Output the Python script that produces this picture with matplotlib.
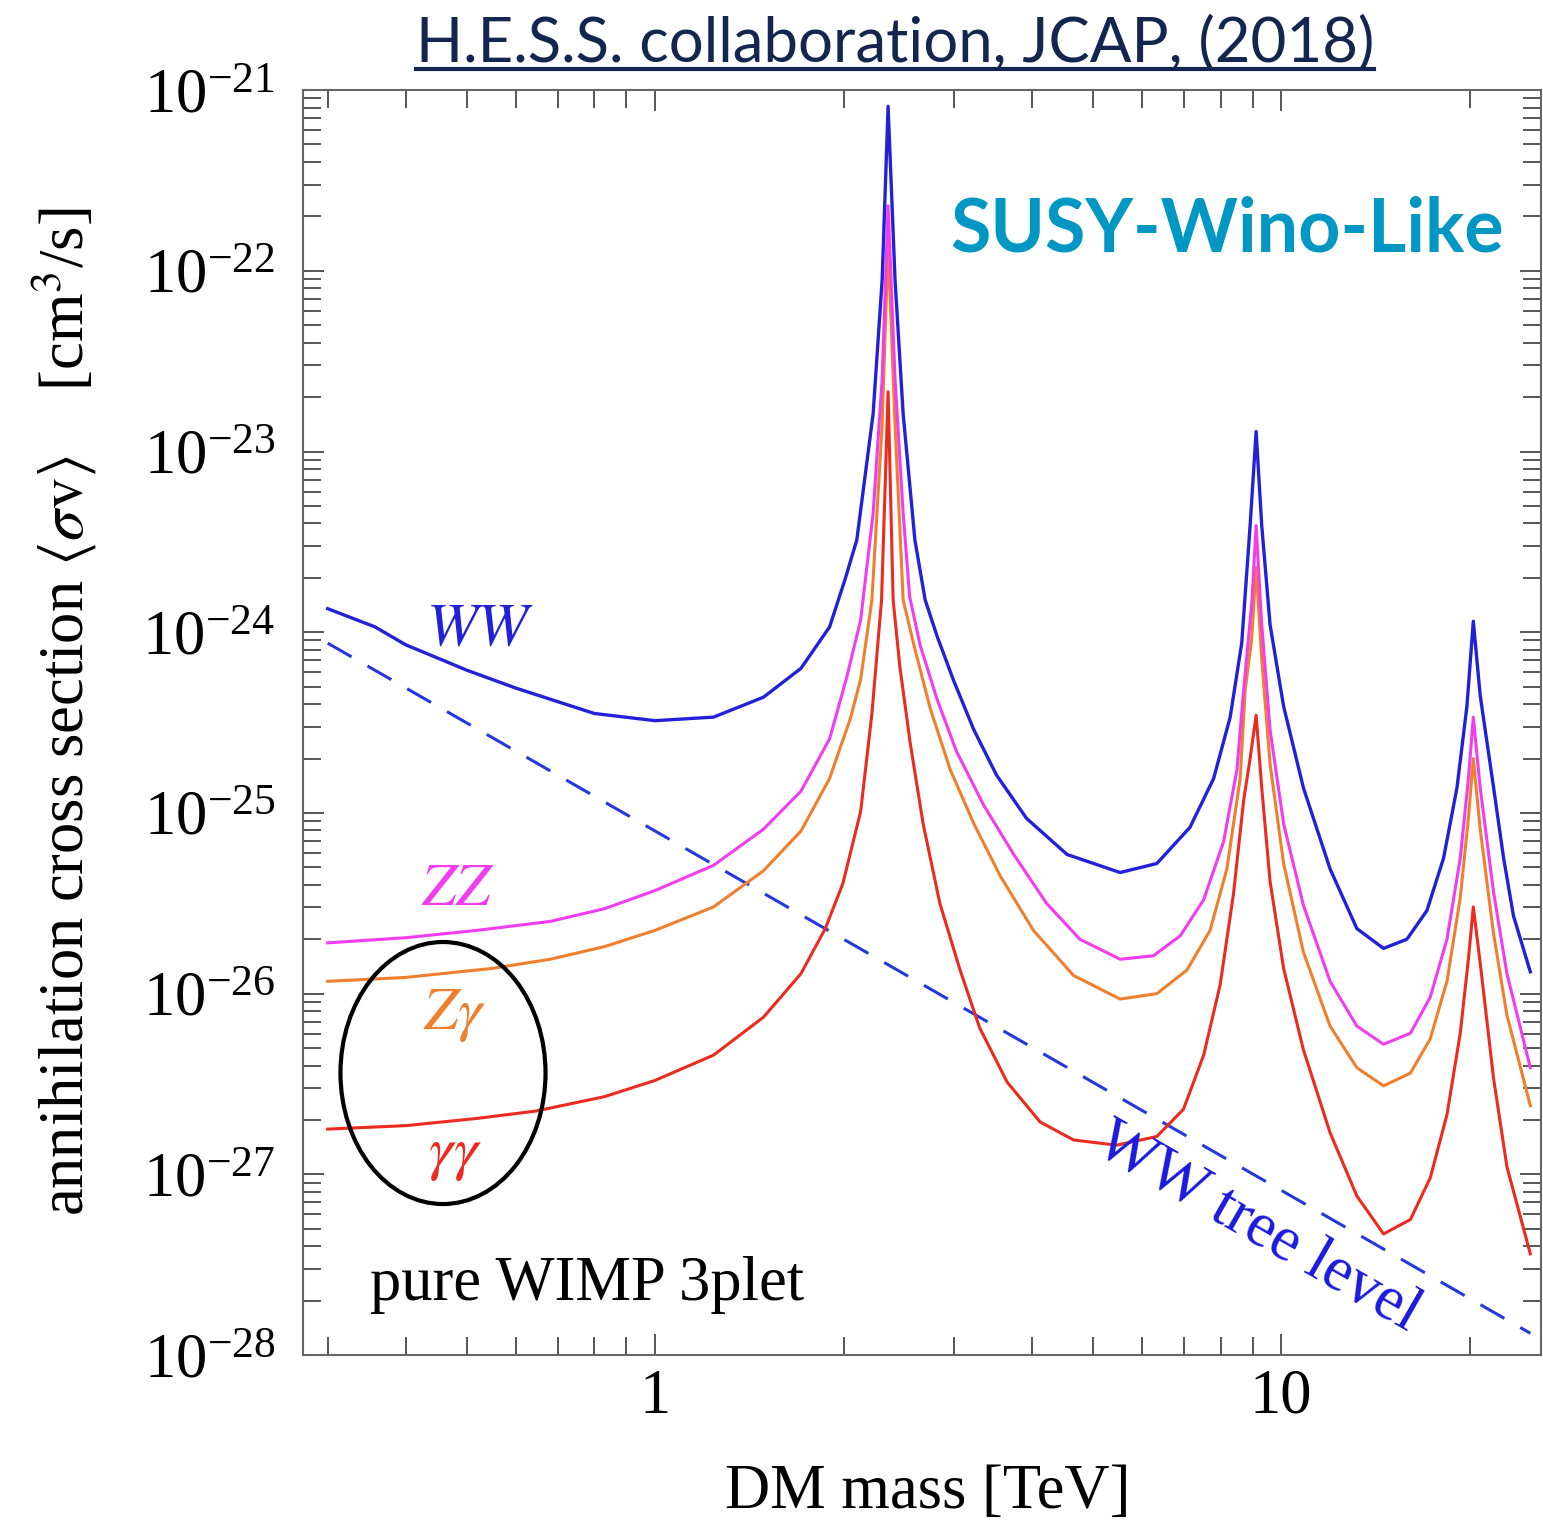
import numpy as np
import matplotlib
matplotlib.use('Agg')
import matplotlib.pyplot as plt
from matplotlib.ticker import LogLocator, FixedLocator, NullFormatter, FuncFormatter
from matplotlib.patches import Ellipse
from matplotlib.lines import Line2D

plt.rcParams['font.family'] = 'Liberation Serif'
plt.rcParams['mathtext.fontset'] = 'stix'

# DM mass [TeV] and <sigma v> [cm^3/s] for each annihilation channel
mass_ww = [0.30, 0.357, 0.40, 0.50, 0.60, 0.80, 1.00, 1.24, 1.49, 1.71, 1.90, 2.01, 2.10, 2.23,
           2.305, 2.356, 2.417, 2.49, 2.60, 2.70, 2.82, 3.00, 3.23, 3.51, 3.92, 4.55, 5.53, 6.33,
           7.15, 7.80, 8.29, 8.65, 8.92, 9.12, 9.31, 9.60, 10.09, 10.85, 11.97, 13.21, 14.57,
           15.88, 17.09, 18.17, 19.09, 19.80, 20.27, 20.79, 21.84, 22.66, 23.50, 25.00]
sv_ww = [1.35e-24, 1.07e-24, 8.51e-25, 6.17e-25, 4.90e-25, 3.55e-25, 3.24e-25, 3.39e-25, 4.37e-25,
         6.31e-25, 1.07e-24, 1.95e-24, 3.24e-24, 1.62e-23, 8.91e-23, 8.13e-22, 8.91e-23, 1.62e-23,
         3.24e-24, 1.51e-24, 9.55e-25, 5.37e-25, 2.88e-25, 1.62e-25, 9.33e-26, 5.89e-26, 4.68e-26,
         5.25e-26, 8.32e-26, 1.55e-25, 3.39e-25, 8.71e-25, 3.89e-24, 1.29e-23, 3.89e-24, 1.10e-24,
         3.89e-25, 1.38e-25, 4.90e-26, 2.29e-26, 1.78e-26, 2.00e-26, 2.88e-26, 5.62e-26, 1.38e-25,
         3.89e-25, 1.15e-24, 4.47e-25, 1.38e-25, 5.62e-26, 2.69e-26, 1.32e-26]

mass_zz = [0.30, 0.40, 0.52, 0.68, 0.83, 1.00, 1.24, 1.49, 1.71, 1.90, 2.02, 2.13, 2.23, 2.305,
           2.356, 2.417, 2.49, 2.55, 2.65, 2.82, 3.03, 3.35, 3.74, 4.22, 4.77, 5.53, 6.25, 6.90,
           7.52, 8.09, 8.50, 8.71, 8.98, 9.12, 9.31, 9.60, 10.09, 10.85, 11.97, 13.21, 14.57,
           16.08, 17.30, 18.40, 19.32, 19.92, 20.27, 20.79, 21.84, 22.94, 25.00]
sv_zz = [1.91e-26, 2.04e-26, 2.24e-26, 2.51e-26, 2.95e-26, 3.72e-26, 5.13e-26, 8.13e-26, 1.32e-25,
         2.57e-25, 5.50e-25, 1.17e-24, 4.57e-24, 2.51e-23, 2.29e-22, 2.51e-23, 4.57e-24, 1.58e-24,
         8.51e-25, 4.27e-25, 2.19e-25, 1.10e-25, 5.89e-26, 3.16e-26, 2.00e-26, 1.55e-26, 1.62e-26,
         2.09e-26, 3.31e-26, 6.92e-26, 1.74e-25, 4.79e-25, 1.48e-24, 3.89e-24, 1.10e-24, 2.88e-25,
         8.71e-26, 3.09e-26, 1.17e-26, 6.61e-27, 5.25e-27, 6.03e-27, 9.55e-27, 2.00e-26, 5.62e-26,
         1.58e-25, 3.39e-25, 1.38e-25, 3.63e-26, 1.29e-26, 3.89e-27]

mass_zg = [0.30, 0.40, 0.55, 0.68, 0.83, 1.00, 1.24, 1.49, 1.71, 1.90, 1.975, 2.05, 2.13, 2.22,
           2.305, 2.356, 2.417, 2.49, 2.59, 2.75, 2.96, 3.23, 3.56, 4.02, 4.66, 5.53, 6.33, 7.07,
           7.70, 8.19, 8.60, 8.76, 8.97, 9.12, 9.31, 9.60, 10.09, 10.85, 11.97, 13.21, 14.57,
           16.08, 17.30, 18.40, 19.32, 19.92, 20.27, 20.79, 21.84, 22.94, 25.00]
sv_zg = [1.17e-26, 1.23e-26, 1.38e-26, 1.55e-26, 1.82e-26, 2.24e-26, 3.02e-26, 4.79e-26, 7.94e-26,
         1.55e-25, 2.29e-25, 3.31e-25, 5.50e-25, 1.51e-24, 1.41e-23, 1.41e-22, 1.41e-23, 1.51e-24,
         8.51e-25, 3.80e-25, 1.74e-25, 8.71e-26, 4.47e-26, 2.24e-26, 1.26e-26, 9.33e-27, 1.00e-26,
         1.35e-26, 2.24e-26, 4.90e-26, 1.55e-25, 4.79e-25, 9.12e-25, 2.29e-24, 7.08e-25, 1.86e-25,
         5.25e-26, 1.70e-26, 6.61e-27, 3.89e-27, 3.09e-27, 3.63e-27, 5.62e-27, 1.17e-26, 3.39e-26,
         9.55e-26, 2.00e-25, 8.13e-26, 2.14e-26, 7.59e-27, 2.40e-27]

mass_gg = [0.30, 0.40, 0.52, 0.645, 0.83, 1.00, 1.24, 1.49, 1.71, 1.87, 1.995, 2.13, 2.22, 2.30,
           2.356, 2.40, 2.46, 2.555, 2.68, 2.85, 3.07, 3.30, 3.65, 4.12, 4.66, 5.46, 6.33, 6.98,
           7.52, 7.99, 8.39, 8.71, 8.92, 9.12, 9.31, 9.60, 10.09, 10.85, 11.97, 13.21, 14.57,
           16.08, 17.30, 18.40, 19.32, 19.92, 20.27, 20.79, 21.84, 22.94, 25.00]
sv_gg = [1.78e-27, 1.86e-27, 2.04e-27, 2.24e-27, 2.69e-27, 3.31e-27, 4.57e-27, 7.41e-27, 1.29e-26,
         2.29e-26, 4.07e-26, 1.02e-25, 3.55e-25, 1.51e-24, 2.14e-23, 1.51e-24, 6.46e-25, 2.45e-25,
         8.71e-26, 3.16e-26, 1.35e-26, 6.46e-27, 3.24e-27, 1.95e-27, 1.55e-27, 1.45e-27, 1.62e-27,
         2.29e-27, 4.57e-27, 1.12e-26, 3.55e-26, 1.17e-25, 2.00e-25, 3.47e-25, 1.38e-25, 4.17e-26,
         1.38e-26, 4.90e-27, 1.70e-27, 7.59e-28, 4.68e-28, 5.62e-28, 9.55e-28, 2.14e-27, 6.03e-27,
         1.58e-26, 3.02e-26, 1.48e-26, 3.39e-27, 1.10e-27, 3.63e-28]

# tree-level WW line
mass_tree = [0.30, 25.0]
sv_tree = [8.7e-25, 1.32e-28]

x_major = [1, 10]
y_major = [1e-28, 1e-27, 1e-26, 1e-25, 1e-24, 1e-23, 1e-22, 1e-21]

c_ww = '#2121d9'
c_zz = '#f23cf0'
c_zg = '#ef7f2d'
c_gg = '#ec2a1f'

fig = plt.figure(figsize=(15.43, 15.27), dpi=100)
ax = fig.add_axes([0.1964, 0.1126, 0.8023, 0.8284])

ax.plot(mass_tree, sv_tree, color='#2438e0', lw=2.2, dashes=(9, 6))
ax.plot(mass_gg, sv_gg, color=c_gg, lw=2.2)
ax.plot(mass_zg, sv_zg, color=c_zg, lw=2.2)
ax.plot(mass_zz, sv_zz, color=c_zz, lw=2.2)
ax.plot(mass_ww, sv_ww, color=c_ww, lw=2.4)

ax.set_xscale('log')
ax.set_yscale('log')
ax.set_xlim(0.274, 26.0)
ax.set_ylim(1e-28, 1e-21)

ax.xaxis.set_major_locator(FixedLocator(x_major))
ax.xaxis.set_minor_locator(LogLocator(base=10, subs=np.arange(2, 10), numticks=100))
ax.xaxis.set_major_formatter(FuncFormatter(lambda v, p: f'{v:g}'))
ax.xaxis.set_minor_formatter(NullFormatter())
ax.yaxis.set_major_locator(FixedLocator(y_major))
ax.yaxis.set_major_formatter(FuncFormatter(
    lambda v, p: r'$\mathdefault{10^{%d}}$' % round(np.log10(v))))
ax.yaxis.set_minor_locator(LogLocator(base=10, subs=np.arange(2, 10), numticks=100))
ax.yaxis.set_minor_formatter(NullFormatter())

ax.tick_params(which='both', direction='in', top=True, right=True, color='#555555', width=1.4)
ax.tick_params(which='major', length=15, labelsize=45)
ax.tick_params(which='minor', length=13)
ax.tick_params(axis='y', which='major', pad=20)
ax.tick_params(axis='x', which='major', pad=10)
for s in ax.spines.values():
    s.set_color('#666666')
    s.set_linewidth(1.5)

# axis titles
fig.text(0.042, 0.5337,
         r'annihilation cross section $\langle\sigma\mathrm{v}\rangle$    [cm$^3$/s]',
         rotation=90, ha='center', va='center', fontsize=45)
fig.text(0.6014, 0.0125, 'DM mass [TeV]', ha='center', va='baseline', fontsize=45)

# channel labels
ax.text(0.143, 0.573, r'$WW$', color=c_ww, fontsize=44, ha='center', va='center', transform=ax.transAxes)
ax.text(0.125, 0.3676, r'$ZZ$', color=c_zz, fontsize=44, ha='center', va='center', transform=ax.transAxes)
ax.text(0.1228, 0.2688, r'$Z\gamma$', color=c_zg, fontsize=44, ha='center', va='center', transform=ax.transAxes)
ax.text(0.1228, 0.1581, r'$\gamma\gamma$', color=c_gg, fontsize=44, ha='center', va='center', transform=ax.transAxes)
ax.text(0.7714, 0.1004, 'WW tree level', color='#1a1ae0', fontsize=45, rotation=-29.8,
        rotation_mode='anchor', ha='center', va='center', transform=ax.transAxes)
ax.text(0.054, 0.0435, 'pure WIMP 3plet', fontsize=45, ha='left', va='baseline', transform=ax.transAxes)

# circle around the photon channels
fig.patches.append(Ellipse((0.2871, 0.2973), 0.1329, 0.1716, transform=fig.transFigure,
                           fill=False, edgecolor='black', lw=3.0))

fig.text(0.6157, 0.835, 'SUSY-Wino-Like', color='#0097c4', fontsize=53,
         fontweight='bold', family='Lato', ha='left', va='baseline')

title = fig.text(0.58, 0.9594, 'H.E.S.S. collaboration, JCAP, (2018)', color='#13264f',
                 fontsize=44.5, family='Lato', ha='center', va='baseline')

# underline the reference line
fig.canvas.draw()
bb = title.get_window_extent()
W = fig.bbox.width
uy = 0.9548
fig.add_artist(Line2D([bb.x0 / W, bb.x1 / W], [uy, uy], transform=fig.transFigure,
                      color='#13264f', lw=3.0))

fig.savefig('out.png', dpi=100)
